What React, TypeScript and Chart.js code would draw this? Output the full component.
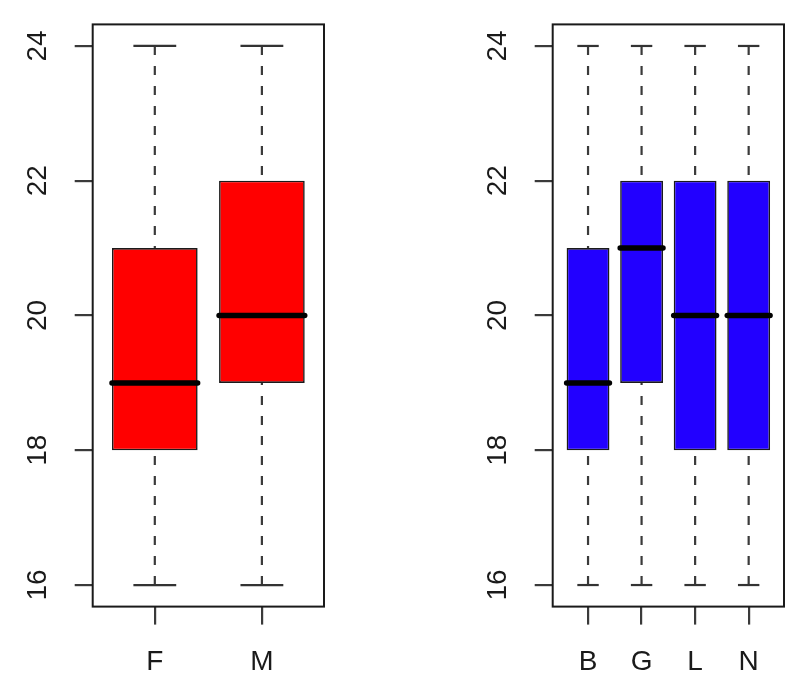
import React, { useEffect, useRef } from "react";
import { Chart, registerables } from "chart.js";

Chart.register(...registerables);

// ---- Data ----
const sexCategories = ["F", "M"];
const sexMin = [16, 16];
const sexQ1 = [18, 19];
const sexMedian = [19, 20];
const sexQ3 = [21, 22];
const sexMax = [24, 24];

const groupCategories = ["B", "G", "L", "N"];
const groupMin = [16, 16, 16, 16];
const groupQ1 = [18, 19, 18, 18];
const groupMedian = [19, 21, 20, 20];
const groupQ3 = [21, 22, 22, 22];
const groupMax = [24, 24, 24, 24];

const yTicks = [16, 18, 20, 22, 24];

const FONT = "'Liberation Sans', Arial, Helvetica, sans-serif";

type PanelProps = {
  categories: string[];
  min: number[];
  q1: number[];
  median: number[];
  q3: number[];
  max: number[];
  color: string;
  left: number;
};

function Panel({ categories, min, q1, median, q3, max, color, left }: PanelProps) {
  const ref = useRef<HTMLCanvasElement | null>(null);

  useEffect(() => {
    if (!ref.current) return;
    const n = categories.length;
    const yLo = Math.min(...yTicks);
    const yHi = Math.max(...yTicks);
    const yPad = (yHi - yLo) * 0.04;
    const xPad = n * 0.04;

    const boxPlugin = {
      id: "rbox",
      beforeDatasetsDraw(chart: any) {
        const ctx = chart.ctx;
        const xs = chart.scales.x;
        const ys = chart.scales.y;
        ctx.save();
        for (let i = 0; i < n; i++) {
          const cx = xs.getPixelForValue(i + 1);
          ctx.strokeStyle = "#3a3a3a";
          ctx.lineWidth = 2.2;
          ctx.setLineDash([9, 11]);
          ctx.beginPath();
          ctx.moveTo(cx, ys.getPixelForValue(max[i]));
          ctx.lineTo(cx, ys.getPixelForValue(q3[i]));
          ctx.stroke();
          ctx.beginPath();
          ctx.moveTo(cx, ys.getPixelForValue(min[i]));
          ctx.lineTo(cx, ys.getPixelForValue(q1[i]));
          ctx.stroke();
          ctx.setLineDash([]);
          ctx.strokeStyle = "#333333";
          ctx.lineWidth = 2.2;
          const l = xs.getPixelForValue(i + 1 - 0.2);
          const r = xs.getPixelForValue(i + 1 + 0.2);
          [max[i], min[i]].forEach((v) => {
            const y = ys.getPixelForValue(v);
            ctx.beginPath();
            ctx.moveTo(l, y);
            ctx.lineTo(r, y);
            ctx.stroke();
          });
        }
        ctx.restore();
      },
      afterDatasetsDraw(chart: any) {
        const ctx = chart.ctx;
        const xs = chart.scales.x;
        const ys = chart.scales.y;
        ctx.save();
        ctx.strokeStyle = "#000000";
        ctx.lineWidth = 5.5;
        ctx.lineCap = "round";
        for (let i = 0; i < n; i++) {
          const l = xs.getPixelForValue(i + 1 - 0.4);
          const r = xs.getPixelForValue(i + 1 + 0.4);
          const y = ys.getPixelForValue(median[i]);
          ctx.beginPath();
          ctx.moveTo(l, y);
          ctx.lineTo(r, y);
          ctx.stroke();
        }
        ctx.restore();
      },
      afterDraw(chart: any) {
        const ctx = chart.ctx;
        const a = chart.chartArea;
        const xs = chart.scales.x;
        const ys = chart.scales.y;
        ctx.save();
        ctx.strokeStyle = "#1a1a1a";
        ctx.lineWidth = 2;
        ctx.strokeRect(a.left, a.top, a.right - a.left, a.bottom - a.top);
        ctx.fillStyle = "#1a1a1a";
        ctx.font = `28px ${FONT}`;
        ctx.textAlign = "center";
        ctx.textBaseline = "middle";
        categories.forEach((c, i) => {
          ctx.fillText(c, xs.getPixelForValue(i + 1), 662);
        });
        yTicks.forEach((v) => {
          const y = ys.getPixelForValue(v);
          ctx.save();
          ctx.translate(38, y);
          ctx.rotate(-Math.PI / 2);
          ctx.fillText(String(v), 0, 0);
          ctx.restore();
        });
        ctx.restore();
      },
    };

    const chart = new Chart(ref.current, {
      type: "bar",
      data: {
        datasets: [
          {
            data: categories.map((_, i) => ({ x: i + 1, y: [q1[i], q3[i]] })) as any,
            backgroundColor: color,
            borderColor: "#1a1a1a",
            borderWidth: 1.6,
            borderSkipped: false,
            barPercentage: 0.8,
            categoryPercentage: 1,
          },
        ],
      },
      options: {
        animation: false,
        responsive: false,
        events: [],
        layout: { padding: { top: 24.4, right: 16, left: 0, bottom: 0 } },
        plugins: { legend: { display: false }, tooltip: { enabled: false } },
        scales: {
          x: {
            type: "linear",
            offset: false,
            min: 0.5 - xPad,
            max: n + 0.5 + xPad,
            afterBuildTicks: (s: any) => {
              s.ticks = categories.map((_, i) => ({ value: i + 1 }));
            },
            afterFit: (s: any) => {
              s.height = 85.4;
            },
            ticks: { display: false },
            border: { display: false },
            grid: {
              offset: false,
              drawOnChartArea: false,
              drawTicks: true,
              tickLength: 18,
              color: "#3a3a3a",
              lineWidth: 2.2,
            },
          },
          y: {
            type: "linear",
            min: yLo - yPad,
            max: yHi + yPad,
            afterBuildTicks: (s: any) => {
              s.ticks = yTicks.map((v) => ({ value: v }));
            },
            afterFit: (s: any) => {
              s.width = 92.7;
            },
            ticks: { display: false },
            border: { display: false },
            grid: {
              drawOnChartArea: false,
              drawTicks: true,
              tickLength: 18,
              color: "#3a3a3a",
              lineWidth: 2.2,
            },
          },
        },
      } as any,
      plugins: [boxPlugin],
    });
    return () => chart.destroy();
  }, []);

  return (
    <div style={{ position: "absolute", left, top: 0, width: 340, height: 692 }}>
      <canvas ref={ref} width={340} height={692} style={{ width: 340, height: 692, display: "block" }} />
    </div>
  );
}

export default function App() {
  return (
    <div style={{ position: "absolute", left: 0, top: 0, width: 800, height: 692, background: "#ffffff" }}>
      <Panel
        categories={sexCategories}
        min={sexMin}
        q1={sexQ1}
        median={sexMedian}
        q3={sexQ3}
        max={sexMax}
        color="#ff0000"
        left={0}
      />
      <Panel
        categories={groupCategories}
        min={groupMin}
        q1={groupQ1}
        median={groupMedian}
        q3={groupQ3}
        max={groupMax}
        color="#2200ff"
        left={460}
      />
    </div>
  );
}
